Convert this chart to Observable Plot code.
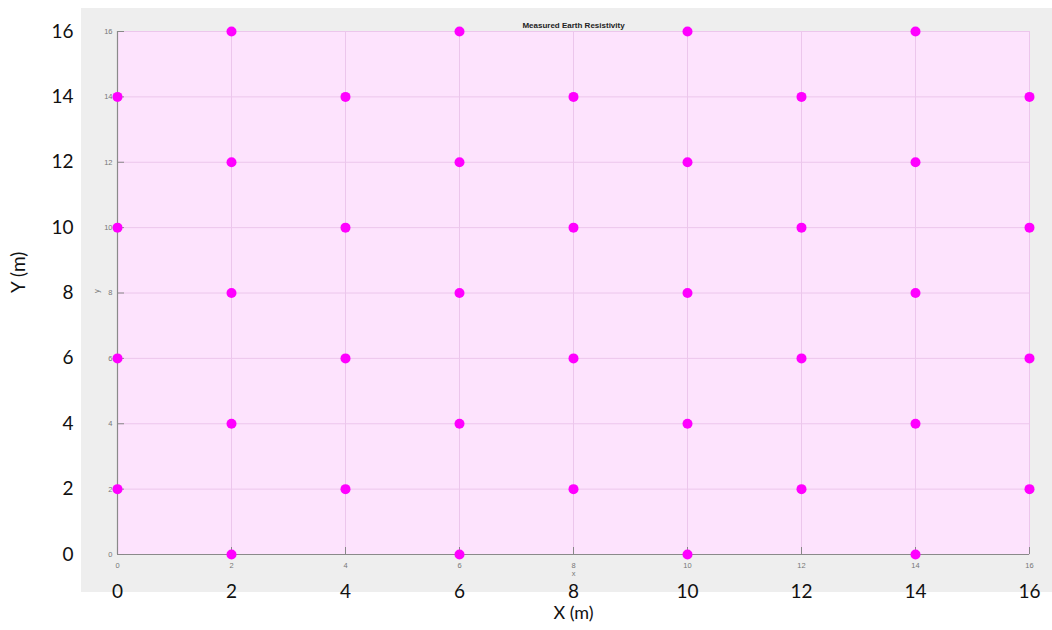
<!DOCTYPE html>
<html>
<head>
<meta charset="utf-8">
<script src="https://cdn.jsdelivr.net/npm/d3@7"></script>
<script src="https://cdn.jsdelivr.net/npm/@observablehq/plot@0.6"></script>
<style>
  html, body { margin: 0; padding: 0; background: #fff; }
  #wrap { position: relative; width: 1052px; height: 630px; overflow: hidden; }
  #bg { position: absolute; left: 81px; top: 8px; width: 971px; height: 584px; background: #eeeeee; }
  #chart { position: absolute; left: 0; top: 0; }
  #chart svg { background: transparent !important; }
</style>
</head>
<body>
<div id="wrap"><div id="bg"></div><div id="chart"></div></div>
<script>
const title = "Measured Earth Resistivity";
const xTicks = [0, 2, 4, 6, 8, 10, 12, 14, 16];
const yTicks = [0, 2, 4, 6, 8, 10, 12, 14, 16];
const pointX = [
  0, 0, 0, 0,
  2, 2, 2, 2, 2,
  4, 4, 4, 4,
  6, 6, 6, 6, 6,
  8, 8, 8, 8,
  10, 10, 10, 10, 10,
  12, 12, 12, 12,
  14, 14, 14, 14, 14,
  16, 16, 16, 16
];
const pointY = [
  2, 6, 10, 14,
  0, 4, 8, 12, 16,
  2, 6, 10, 14,
  0, 4, 8, 12, 16,
  2, 6, 10, 14,
  0, 4, 8, 12, 16,
  2, 6, 10, 14,
  0, 4, 8, 12, 16,
  2, 6, 10, 14
];
const points = pointX.map((x, i) => ({x, y: pointY[i]}));

const outerFont = "Lato, 'Open Sans', sans-serif";
const innerFont = "'Liberation Sans', Arial, sans-serif";

const chart = Plot.plot({
  width: 1052,
  height: 630,
  marginLeft: 117,
  marginRight: 23,
  marginTop: 31,
  marginBottom: 76,
  style: {background: "transparent"},
  x: {domain: [0, 16], axis: null},
  y: {domain: [0, 16], axis: null},
  marks: [
    Plot.frame({fill: "#fde3fd", stroke: "#ecd2ec"}),
    Plot.gridX(xTicks, {stroke: "#ecc6ec", strokeOpacity: 1}),
    Plot.gridY(yTicks, {stroke: "#ecc6ec", strokeOpacity: 1}),
    Plot.ruleX([0], {stroke: "#8a8a8a", strokeWidth: 1.2}),
    Plot.ruleY([0], {stroke: "#8a8a8a", strokeWidth: 1.2}),
    Plot.axisX(xTicks, {anchor: "bottom", label: null, tickSize: -7, tickPadding: 15, fontSize: 7.5, fill: "#777", stroke: "#888", fontFamily: innerFont, tickFormat: d => d}),
    Plot.axisY(yTicks, {anchor: "left", label: null, tickSize: -7, tickPadding: 12, fontSize: 7.5, fill: "#777", stroke: "#888", fontFamily: innerFont, tickFormat: d => d}),
    Plot.text(["x"], {frameAnchor: "bottom", dy: 21, fontSize: 7.5, fill: "#777", fontFamily: innerFont}),
    Plot.text(["y"], {frameAnchor: "left", dx: -21, rotate: -90, fontSize: 7.5, fill: "#777", fontFamily: innerFont}),
    Plot.text([title], {frameAnchor: "top", dy: -9, fontSize: 8, fontWeight: "bold", fill: "#222", fontFamily: innerFont}),
    Plot.axisX(xTicks, {anchor: "bottom", label: null, tickSize: 0, tickPadding: 30, fontSize: 19, fill: "#111", fontFamily: outerFont, tickFormat: d => d}),
    Plot.axisY(yTicks, {anchor: "left", label: null, tickSize: 0, tickPadding: 44, fontSize: 19, fill: "#111", fontFamily: outerFont, tickFormat: d => d}),
    Plot.text(["X (m)"], {frameAnchor: "bottom", dy: 64, fontSize: 18, fill: "#111", fontFamily: outerFont}),
    Plot.text(["Y (m)"], {frameAnchor: "left", dx: -99, rotate: -90, fontSize: 19, fill: "#111", fontFamily: outerFont}),
    Plot.dot(points, {x: "x", y: "y", r: 5, fill: "#ff00ff", stroke: "none"})
  ]
});
document.getElementById("chart").appendChild(chart);
</script>
</body>
</html>
